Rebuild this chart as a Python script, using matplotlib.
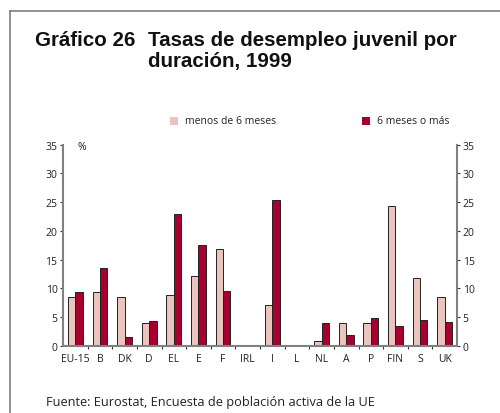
import matplotlib
matplotlib.use("Agg")
import matplotlib.pyplot as plt
from matplotlib.lines import Line2D
from matplotlib.patches import Rectangle
import numpy as np

categories = ["EU-15", "B", "DK", "D", "EL", "E", "F", "IRL", "I", "L", "NL", "A", "P", "FIN", "S", "UK"]
menos_6 = [8.4, 9.4, 8.4, 3.9, 8.8, 12.1, 16.9, 0, 7.0, 0, 0.75, 4.0, 4.0, 24.3, 11.8, 8.4]
mas_6 = [9.4, 13.5, 1.5, 4.3, 23.0, 17.5, 9.5, 0, 25.3, 0, 3.9, 1.9, 4.85, 3.5, 4.45, 4.1]
series_labels = ["menos de 6 meses", "6 meses o más"]
yticks = [0, 5, 10, 15, 20, 25, 30, 35]

PINK = "#ebc4bd"
RED = "#a8002e"
GRAY = "#808080"
TXT = "#222222"
W, H = 500, 414

plt.rcParams['font.family'] = ['Open Sans', 'DejaVu Sans']

fig = plt.figure(figsize=(W / 100, H / 100), dpi=100)
fig.patch.set_facecolor("white")

# frame lines
fig.add_artist(Line2D([9.5 / W, 1.0], [1 - 12 / H, 1 - 12 / H], transform=fig.transFigure, color=GRAY, lw=1.2))
fig.add_artist(Line2D([9.5 / W, 9.5 / W], [0, 1 - 12 / H], transform=fig.transFigure, color=GRAY, lw=1.2))

ax = fig.add_axes([63 / W, 1 - 346.7 / H, (457 - 63) / W, (346.7 - 145.6) / H])
x = np.arange(len(categories))
bw = 0.3
ax.bar(x - bw / 2, menos_6, bw, color=PINK, edgecolor="#222222", linewidth=0.7)
ax.bar(x + bw / 2, mas_6, bw, color=RED, edgecolor="#222222", linewidth=0.7)
ax.set_xlim(-0.5, len(categories) - 0.5)
ax.set_ylim(0, 35)

for s in ["top"]:
    ax.spines[s].set_visible(False)
for s in ["left", "right", "bottom"]:
    ax.spines[s].set_color(GRAY)
    ax.spines[s].set_linewidth(1.5)

ax.set_yticks(yticks)
ax.tick_params(axis="y", which="both", left=True, right=True, labelleft=True, labelright=True,
               direction="out", length=2.5, width=0.8, color="#333333", labelsize=7.5,
               labelcolor=TXT, pad=1.5)
ax.set_xticks(x)
ax.set_xticklabels(categories)
ax.tick_params(axis="x", which="major", length=0, labelsize=7.5, labelcolor=TXT, pad=5)
ax.set_xticks(np.arange(-0.5, len(categories) - 0.5, 1.0)[1:], minor=True)
ax.tick_params(axis="x", which="minor", length=2.5, width=0.8, color="#333333", direction="out")

ax.text(78 / W, 1 - 147 / H, "%", transform=fig.transFigure, fontsize=7.5, color=TXT, ha="left", va="center")

# legend
sq = 8
fig.add_artist(Rectangle((170 / W, 1 - (122 + sq / 2) / H), sq / W, sq / H, transform=fig.transFigure,
                         facecolor=PINK, edgecolor="none"))
fig.text(185 / W, 1 - 122 / H, series_labels[0], fontsize=7.5, color=TXT, ha="left", va="center")
fig.add_artist(Rectangle((362 / W, 1 - (122 + sq / 2) / H), sq / W, sq / H, transform=fig.transFigure,
                         facecolor=RED, edgecolor="none"))
fig.text(377 / W, 1 - 122 / H, series_labels[1], fontsize=7.5, color=TXT, ha="left", va="center")

# title
tfam = ['Liberation Sans', 'DejaVu Sans']
fig.text(35 / W, 1 - 40 / H, "Gráfico 26", fontsize=14.8, fontweight="bold", family=tfam,
         color="#111111", ha="left", va="center")
fig.text(148 / W, 1 - 40 / H, "Tasas de desempleo juvenil por", fontsize=14.8, fontweight="bold",
         family=tfam, color="#111111", ha="left", va="center")
fig.text(148 / W, 1 - 62 / H, "duración, 1999", fontsize=14.8, fontweight="bold",
         family=tfam, color="#111111", ha="left", va="center")

# source
fig.text(46 / W, 1 - 403 / H, "Fuente: Eurostat, Encuesta de población activa de la UE", fontsize=9.2,
         color=TXT, ha="left", va="center")

fig.savefig("out.png", dpi=100)
